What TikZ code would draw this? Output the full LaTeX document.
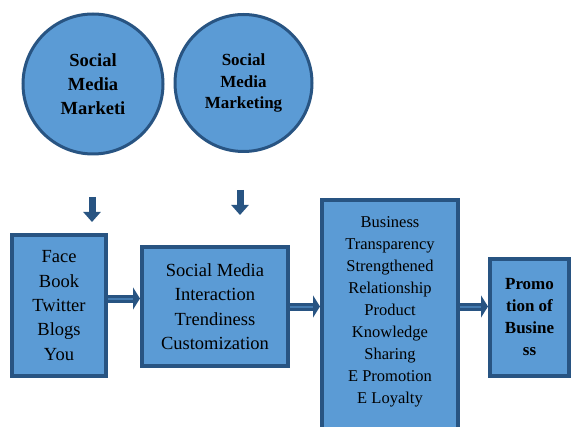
\documentclass[tikz,border=0pt]{standalone}
\usepackage{fontspec}
\setmainfont{Liberation Serif}
\usetikzlibrary{arrows.meta}
\definecolor{boxblue}{RGB}{91,155,213}
\definecolor{edgeblue}{RGB}{40,84,130}

\begin{document}
\begin{tikzpicture}[x=1pt,y=-1pt,
	bubble/.style={circle,draw=edgeblue,fill=boxblue,line width=3pt,align=center,inner sep=0pt},
	block/.style={rectangle,draw=edgeblue,fill=boxblue,line width=4pt,align=center,inner sep=0pt},
	flow/.style={draw=edgeblue,line width=3pt,double=boxblue!55!edgeblue,double distance=2pt,-{Triangle[width=22pt,length=7pt]}},
	drop/.style={draw=edgeblue,line width=7pt,-{Triangle[width=17pt,length=10pt]}}]
	\useasboundingbox (0,0) rectangle (572,427);
	\clip (0,0) rectangle (572,427);
	% the two circles on top
	\node[bubble,minimum size=140pt,font=\rmfamily\bfseries\fontsize{18.5}{23.8}\selectfont] (smm1) at (93,84) {Social\\Media\\Marketi};
	\node[bubble,minimum size=137pt,font=\rmfamily\bfseries\fontsize{17}{21.8}\selectfont] (smm2) at (243.5,83) {Social\\Media\\Marketing};
	% down arrows
	\coordinate (d1s) at (92,197);
	\coordinate (d1e) at (92,222);
	\coordinate (d2s) at (240,190);
	\coordinate (d2e) at (240,215);
	\draw[drop] (d1s) -- (d1e);
	\draw[drop] (d2s) -- (d2e);
	% boxes
	\node[block,minimum width=94pt,minimum height=141pt,font=\rmfamily\fontsize{18.5}{24.3}\selectfont] (sites) at (59,305.5) {Face\\Book\\Twitter\\Blogs\\You};
	\node[block,minimum width=146pt,minimum height=119pt,font=\rmfamily\fontsize{18.5}{24.5}\selectfont] (trend) at (215,306.5) {Social Media\\Interaction\\Trendiness\\Customization};
	\node[block,minimum width=136pt,minimum height=260pt,anchor=north] (biz) at (390,198) {};
	\node[align=center,inner sep=0pt,font=\rmfamily\fontsize{16.5}{22}\selectfont] (biztext) at (390,312) {Business\\Transparency\\Strengthened\\Relationship\\Product\\Knowledge\\Sharing\\E Promotion\\E Loyalty};
	\node[block,minimum width=79pt,minimum height=117pt,font=\rmfamily\bfseries\fontsize{17}{22}\selectfont] (promo) at (529.5,317.5) {Promo\\tion of\\Busine\\ss};
	% connectors
	\draw[flow] ([yshift=7pt]sites.east) -- ([yshift=7pt]sites.east -| trend.west);
	\draw[flow] (trend.east) -- (trend.east -| biz.west);
	\draw[flow] (biz.east |- trend.east) -- (trend.east -| promo.west);
\end{tikzpicture}
\end{document}
